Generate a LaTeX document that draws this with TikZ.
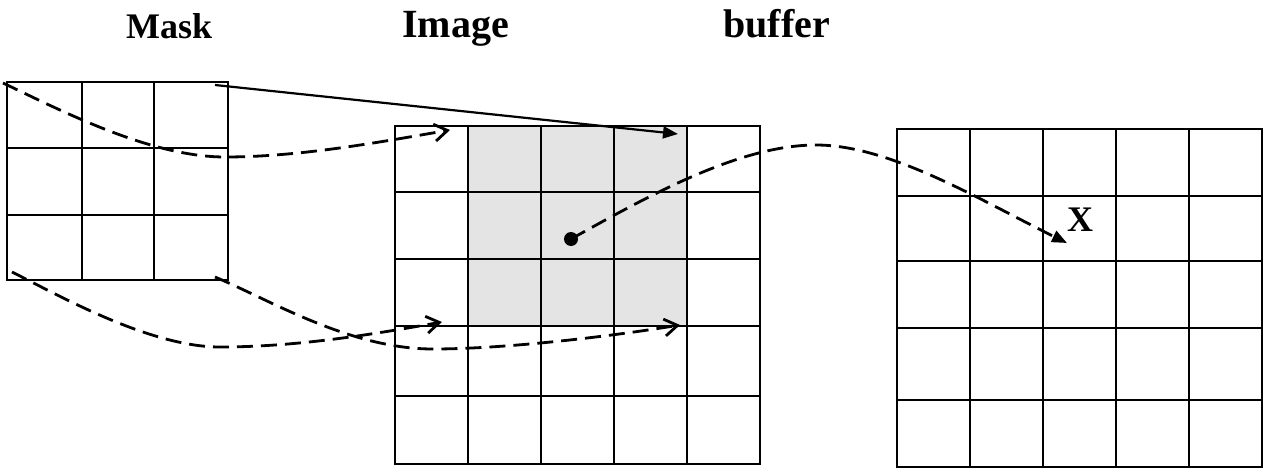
\documentclass[tikz,border=0pt]{standalone}
\usepackage{fontspec}
\setmainfont{Liberation Serif}
\usetikzlibrary{arrows.meta}
\definecolor{cellgray}{RGB}{228,228,228}
\begin{document}
\begin{tikzpicture}[x=1pt,y=-1pt,
  gridline/.style={line width=2pt},
  flow/.style={line width=2.8pt, dash pattern=on 16pt off 8pt},
  openhead/.style={-{Straight Barb[length=13pt,width=17pt]}},
  fullhead/.style={-{Triangle[length=15pt,width=12pt]}},
  lab/.style={inner sep=0pt, anchor=base west, font=\bfseries\fontsize{40}{44}\selectfont},
  smalllab/.style={inner sep=0pt, anchor=base west, font=\bfseries\fontsize{36}{40}\selectfont}]
\useasboundingbox (0,0) rectangle (1265,468);

% labels
\node[smalllab] (lmask) at (126,39) {Mask};
\node[lab] (limage) at (402,38) {Image};
\node[lab] (lbuffer) at (723,38) {buffer};

% shaded window in image
\fill[fill=cellgray] (468,126) rectangle (687,326);

% mask grid
\draw[gridline] (7,82) rectangle (228,280);
\foreach \x in {82,154} \draw[gridline] (\x,82) -- (\x,280);
\foreach \y in {148,215} \draw[gridline] (7,\y) -- (228,\y);

% image grid
\draw[gridline] (395,126) rectangle (760,464);
\foreach \x in {468,541,614,687} \draw[gridline] (\x,126) -- (\x,464);
\foreach \y in {192,259,326,396} \draw[gridline] (395,\y) -- (760,\y);

% buffer grid
\draw[gridline] (897,129) rectangle (1262,467);
\foreach \x in {970,1043,1116,1189} \draw[gridline] (\x,129) -- (\x,467);
\foreach \y in {196,261,328,400} \draw[gridline] (897,\y) -- (1262,\y);

% connector end points
\coordinate (mtl) at (3,83);
\coordinate (mtr) at (215,85);
\coordinate (mbl) at (12,272);
\coordinate (mbr) at (215,277);
\coordinate (a1) at (225,157);
\coordinate (b1) at (220,347);
\coordinate (c1) at (433,349);
\coordinate (d1) at (816,145);
\coordinate (ta) at (450,130);
\coordinate (tb) at (442,322);
\coordinate (tc) at (680,325);
\coordinate (ts) at (678,134);
\coordinate (td) at (1067,243);
\node[circle, fill=black, inner sep=0pt, minimum size=14pt] (dot) at (571,239) {};

% X label
\node[smalllab] (lx) at (1067,231) {X};

% solid arrow
\draw[line width=2.2pt, fullhead] (mtr) -- (ts);

% dashed arrows
\draw[flow, openhead] (mtl) .. controls (60,110) and (150,157) .. (a1)
  .. controls (300,157) and (380,142) .. (ta);
\draw[flow, openhead] (mbl) .. controls (60,296) and (150,347) .. (b1)
  .. controls (300,347) and (380,333) .. (tb);
\draw[flow, openhead] (mbr) .. controls (270,300) and (350,349) .. (c1)
  .. controls (500,349) and (600,338) .. (tc);
\draw[flow, fullhead] (dot.center) .. controls (650,195) and (740,145) .. (d1)
  .. controls (890,145) and (980,200) .. (td);
\end{tikzpicture}
\end{document}
